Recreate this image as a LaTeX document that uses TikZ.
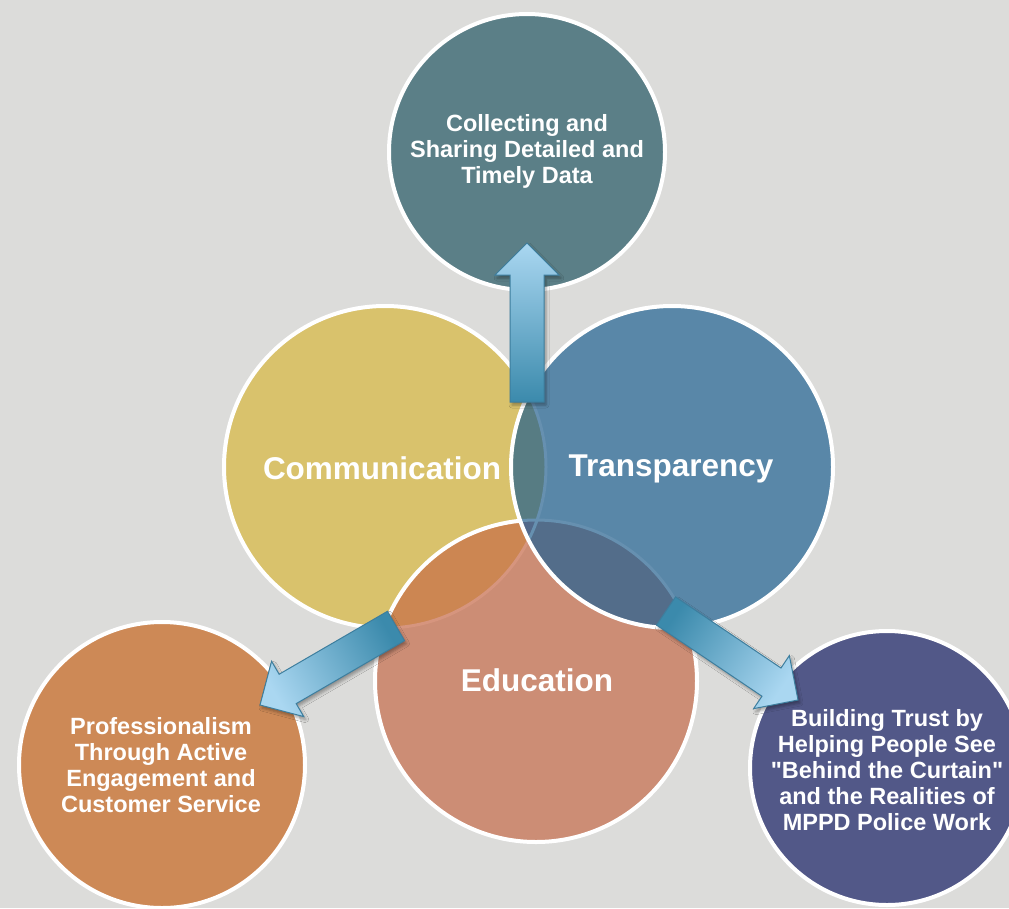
\documentclass[tikz,border=0pt]{standalone}
\usepackage{fontspec}
\setmainfont{Liberation Sans}
\usetikzlibrary{calc, shadows.blur}

\definecolor{bgcolor}{HTML}{DCDCDA}
\definecolor{datafill}{HTML}{5B7F87}
\definecolor{commfill}{HTML}{D9C26C}
\definecolor{transfill}{HTML}{5987A8}
\definecolor{edufill}{HTML}{CC8D75}
\definecolor{proffill}{HTML}{CD8956}
\definecolor{trustfill}{HTML}{525888}
\definecolor{commtrans}{HTML}{577C83}
\definecolor{commedu}{HTML}{CC8652}
\definecolor{transedu}{HTML}{536D8A}
\definecolor{tripleedge}{HTML}{52698A}
\definecolor{bluefaint}{HTML}{6690B0}
\definecolor{salmonfaint}{HTML}{D6957E}
\definecolor{arrowlight}{HTML}{AAD7F1}
\definecolor{arrowdark}{HTML}{3B8AAC}
\definecolor{arrowedge}{HTML}{3D7E9E}

\newcommand{\blockarrow}[3]{%
  \coordinate (headbase) at ($(#2)!32pt!(#1)$);
  \path[arrow body, shading angle=#3]
    ($(#1)!17pt!90:(#2)$) -- ($(headbase)!17pt!90:(#2)$) -- ($(headbase)!32pt!90:(#2)$) -- (#2)
    -- ($(headbase)!32pt!-90:(#2)$) -- ($(headbase)!17pt!-90:(#2)$) -- ($(#1)!17pt!-90:(#2)$) -- cycle;
}

\begin{document}
\begin{tikzpicture}[x=1pt, y=1pt,
            ring style/.style={draw=white, line width=4pt},
            faint style/.style={draw=bluefaint, line width=3pt},
            small text/.style={text=white, align=center, font=\fontsize{23.5}{26}\selectfont\bfseries},
            big text/.style={text=white, font=\fontsize{31.5}{36}\selectfont\bfseries},
            arrow body/.style={top color=arrowlight, bottom color=arrowdark, draw=arrowedge, line width=1pt,
                blur shadow={shadow xshift=2pt, shadow yshift=-3pt, shadow blur radius=3pt, shadow opacity=35}}]
            \pgfmathsetmacro{\radiusbig}{161}
            \pgfmathsetmacro{\radiusdata}{138}
            \pgfmathsetmacro{\radiusprof}{143}
            \pgfmathsetmacro{\radiustrust}{137}

            \fill[bgcolor] (0, 0) rectangle (1009, -908);
            \useasboundingbox (0, 0) rectangle (1009, -908);

            \coordinate (data) at (527, -152);
            \coordinate (comm) at (385, -467);
            \coordinate (trans) at (672, -467);
            \coordinate (edu) at (536, -681);
            \coordinate (prof) at (162, -765);
            \coordinate (trust) at (887, -768);

            \coordinate (uptail) at (527, -402);
            \coordinate (uptip) at (527, -243);
            \coordinate (lefttail) at (396, -626);
            \coordinate (lefttip) at (260, -705);
            \coordinate (righttail) at (666, -611);
            \coordinate (righttip) at (798, -700);

            \fill[datafill] (data) circle[radius=\radiusdata pt];
            \draw[ring style] (data) circle[radius=\radiusdata pt];
            \fill[proffill] (prof) circle[radius=\radiusprof pt];
            \draw[ring style] (prof) circle[radius=\radiusprof pt];
            \fill[trustfill] (trust) circle[radius=\radiustrust pt];
            \draw[ring style] (trust) circle[radius=\radiustrust pt];

            \fill[commfill] (comm) circle[radius=\radiusbig pt];
            \draw[ring style] (comm) circle[radius=\radiusbig pt];
            \fill[edufill] (edu) circle[radius=\radiusbig pt];
            \begin{scope}
                \clip (edu) circle[radius=\radiusbig pt];
                \fill[commedu] (comm) circle[radius=\radiusbig pt];
                \draw[faint style, draw=salmonfaint] (comm) circle[radius=\radiusbig pt];
            \end{scope}
            \draw[ring style] (edu) circle[radius=\radiusbig pt];

            \fill[transfill] (trans) circle[radius=\radiusbig pt];
            \begin{scope}
                \clip (trans) circle[radius=\radiusbig pt];
                \fill[commtrans] (comm) circle[radius=\radiusbig pt];
                \fill[transedu] (edu) circle[radius=\radiusbig pt];
                \begin{scope}
                    \clip (edu) circle[radius=\radiusbig pt];
                    \fill[tripleedge] (comm) circle[radius=\radiusbig pt];
                \end{scope}
                \draw[faint style] (comm) circle[radius=\radiusbig pt];
                \draw[faint style] (edu) circle[radius=\radiusbig pt];
            \end{scope}
            \draw[ring style] (trans) circle[radius=\radiusbig pt];

            \node[small text] (datalabel) at ([yshift=1pt] data) {Collecting and\\Sharing Detailed and\\Timely Data};
            \node[small text] (proflabel) at (161, -765) {Professionalism\\Through Active\\Engagement and\\Customer Service};
            \node[small text] (trustlabel) at (887, -770) {Building Trust by\\Helping People See\\\textquotedbl Behind the Curtain\textquotedbl\\and the Realities of\\MPPD Police Work};
            \node[big text] (commlabel) at (382, -468) {Communication};
            \node[big text] (translabel) at (671, -469) {Transparency};
            \node[big text] (edulabel) at (537, -680) {Education};

            \blockarrow{uptail}{uptip}{0}
            \blockarrow{lefttail}{lefttip}{120}
            \blockarrow{righttail}{righttip}{-124}
        \end{tikzpicture}
\end{document}
